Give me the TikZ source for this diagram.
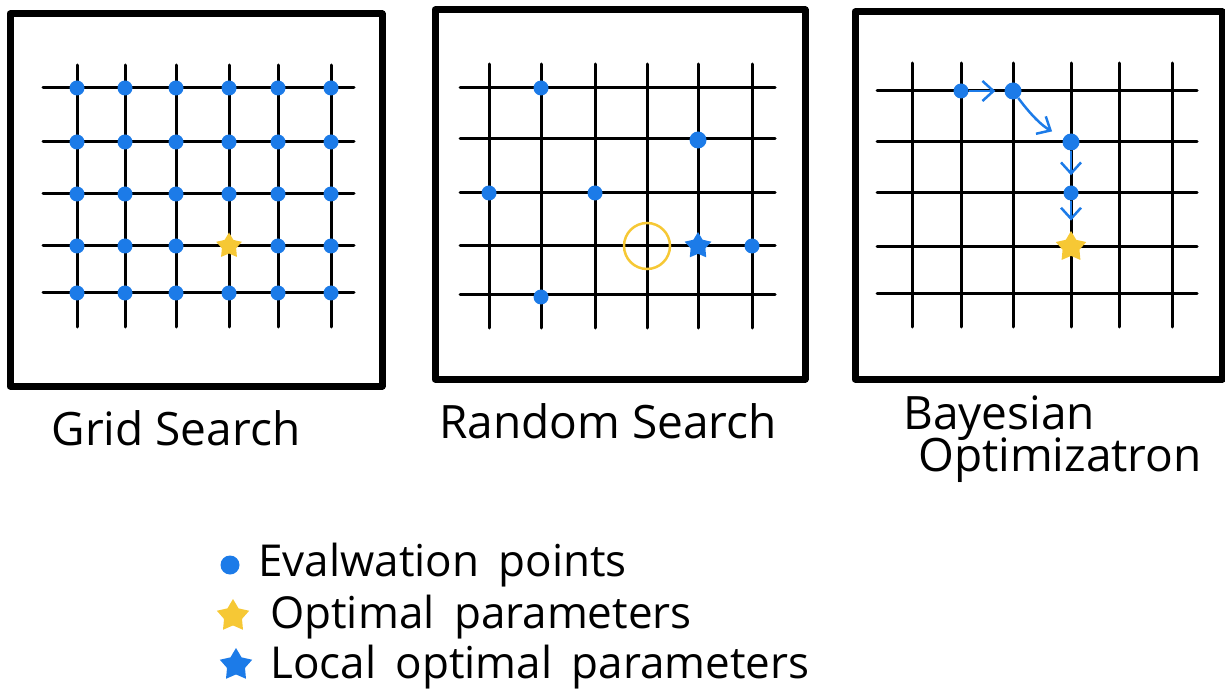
\documentclass[tikz,border=0pt]{standalone}
\usepackage{fontspec}
\setmainfont{Open Sans}
\usetikzlibrary{shapes.geometric,arrows.meta}
\definecolor{evblue}{HTML}{1C7BE8}
\definecolor{optyellow}{HTML}{F6C835}
\begin{document}
\begin{tikzpicture}[x=1pt,y=-1pt,
  frame/.style={line width=7pt, line join=round},
  gl/.style={line width=3pt, line cap=round},
  dot/.style={circle, fill=evblue, inner sep=0pt, minimum size=15pt},
  ystar/.style={star, star points=5, star point ratio=1.8, fill=optyellow, inner sep=0pt, minimum size=30pt},
  bstar/.style={star, star points=5, star point ratio=1.8, fill=evblue, inner sep=0pt, minimum size=30pt},
  ring/.style={circle, draw=optyellow, line width=2.5pt, inner sep=0pt, minimum size=46pt},
  arr/.style={evblue, line width=2.5pt, -{Straight Barb[length=11pt,width=20pt,line width=2.5pt]}},
  lbl/.style={font=\fontsize{46}{50}\selectfont, inner sep=0pt},
  leg/.style={font=\fontsize{44}{48}\selectfont, inner sep=0pt, anchor=west},
]
\useasboundingbox (0,0) rectangle (1225,700);
% ---------- panel 1: grid search
\draw[frame] (10,14) rectangle (382,386);
\foreach \x in {77,125,176,229,278,331} \draw[gl] (\x,65) -- (\x,327);
\foreach \y in {88,142,194,246,293} \draw[gl] (43,\y) -- (354,\y);
\foreach \x [count=\i] in {77,125,176,229,278,331}
  \foreach \y [count=\j] in {88,142,194,246,293}
    {\ifnum\numexpr\i*10+\j\relax=44 \else \node[dot] (g\i\j) at (\x,\y) {};\fi}
\node[ystar, minimum size=27pt] (gopt) at (229,246) {};
% ---------- panel 2: random search
\draw[frame] (435,10) rectangle (805,379);
\foreach \x in {489,541,595,647,698,752} \draw[gl] (\x,64) -- (\x,328);
\foreach \y in {88,139,193,246,295} \draw[gl] (460,\y) -- (775,\y);
\node[dot] (r1) at (541,88) {};
\node[dot, minimum size=17pt] (r2) at (698,140) {};
\node[dot] (r3) at (489,193) {};
\node[dot] (r4) at (595,193) {};
\node[ring] (rring) at (647,246) {};
\node[bstar, minimum size=28pt] (rloc) at (698,246) {};
\node[dot] (r5) at (752,246) {};
\node[dot] (r6) at (541,297) {};
% ---------- panel 3: bayesian optimization
\draw[frame] (855,12) rectangle (1222,379);
\foreach \x in {912,961,1013,1071,1119,1172} \draw[gl] (\x,63) -- (\x,327);
\foreach \y in {91,142,193,247,294} \draw[gl] (877,\y) -- (1197,\y);
\node[dot] (b1) at (961,91) {};
\node[dot, minimum size=17pt] (b2) at (1013,91) {};
\node[dot, minimum size=17pt] (b3) at (1071,142) {};
\node[dot] (b4) at (1071,193) {};
\node[ystar, minimum size=32pt] (b5) at (1071,247) {};
\draw[arr, shorten >=9pt] (b1) -- (b2);
\draw[arr, shorten >=13pt] (b2) to[bend right=12] (b3);
\draw[arr, shorten >=10pt] (b3) -- (b4);
\draw[arr, shorten >=10pt] (b4) -- (b5);
% ---------- labels
\node[lbl] (t1) at (176,428) {Grid Search};
\node[lbl] (t2) at (608,421) {Random Search};
\node[lbl, anchor=west] (t3) at (903,418) {Bayesian};
\node[lbl, anchor=west] (t4) at (918,460) {Optimizatron};
% ---------- legend
\node[dot, minimum size=19pt] (l1) at (230,565) {};
\node[ystar, minimum size=34pt] (l2) at (233,616) {};
\node[bstar, minimum size=34pt] (l3) at (236,665) {};
\node[leg] (e1) at (258,565) {Evalwation\hspace{8pt} points};
\node[leg] (e2) at (270,617) {Optimal\hspace{8pt} parameters};
\node[leg] (e3) at (270,667) {Local\hspace{8pt} optimal\hspace{8pt} parameters};
\end{tikzpicture}
\end{document}
